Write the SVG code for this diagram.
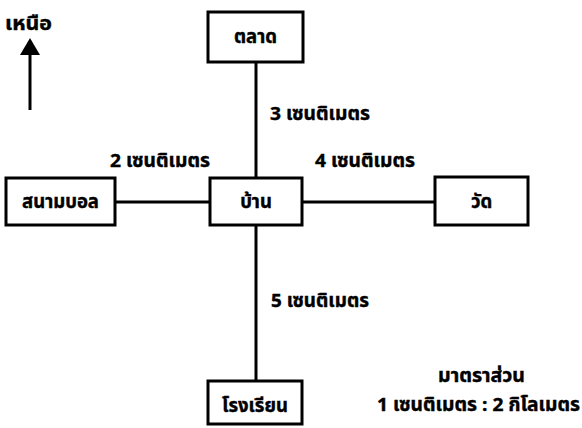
<svg xmlns="http://www.w3.org/2000/svg" width="582" height="428" viewBox="0 0 582 428">
<style>
.box{fill:#fff;stroke:#000;stroke-width:3}
.ln{stroke:#000;stroke-width:3;fill:none}
text{font-family:"Noto Sans Thai","Noto Sans","DejaVu Sans",sans-serif;font-weight:bold;font-size:18.5px;fill:#000;stroke:#000;stroke-width:0.4}
.c{text-anchor:middle}
</style>
<rect width="582" height="428" fill="#fff"/>
<g id="north">
<text x="5" y="30" textLength="47" lengthAdjust="spacingAndGlyphs">เหนือ</text>
<polygon points="20,55 40,55 30,38" fill="#000"/>
<line class="ln" x1="30" y1="55" x2="30" y2="110"/>
</g>
<g id="connectors">
<line class="ln" x1="256" y1="62" x2="256" y2="178"/>
<line class="ln" x1="115" y1="202" x2="210" y2="202"/>
<line class="ln" x1="302" y1="202" x2="435" y2="202"/>
<line class="ln" x1="256" y1="225" x2="256" y2="381"/>
<text x="270" y="120" textLength="100" lengthAdjust="spacingAndGlyphs">3 เซนติเมตร</text>
<text x="110" y="167" textLength="100" lengthAdjust="spacingAndGlyphs">2 เซนติเมตร</text>
<text x="315" y="167" textLength="100" lengthAdjust="spacingAndGlyphs">4 เซนติเมตร</text>
<text x="271" y="307" textLength="98" lengthAdjust="spacingAndGlyphs">5 เซนติเมตร</text>
</g>
<g id="market">
<rect class="box" x="208" y="12" width="95" height="50"/>
<text class="c" x="255.5" y="43">ตลาด</text>
</g>
<g id="home">
<rect class="box" x="210" y="178" width="92" height="47"/>
<text class="c" x="256" y="208">บ้าน</text>
</g>
<g id="field">
<rect class="box" x="6" y="178" width="109" height="47"/>
<text class="c" x="60.5" y="208">สนามบอล</text>
</g>
<g id="temple">
<rect class="box" x="435" y="177" width="93" height="48"/>
<text class="c" x="481.5" y="208">วัด</text>
</g>
<g id="school">
<rect class="box" x="208" y="381" width="94" height="43"/>
<text class="c" x="255" y="412">โรงเรียน</text>
</g>
<g id="scale">
<text x="438" y="382" textLength="87" lengthAdjust="spacingAndGlyphs">มาตราส่วน</text>
<text x="377" y="411" textLength="203" lengthAdjust="spacingAndGlyphs">1 เซนติเมตร : 2 กิโลเมตร</text>
</g>
</svg>
